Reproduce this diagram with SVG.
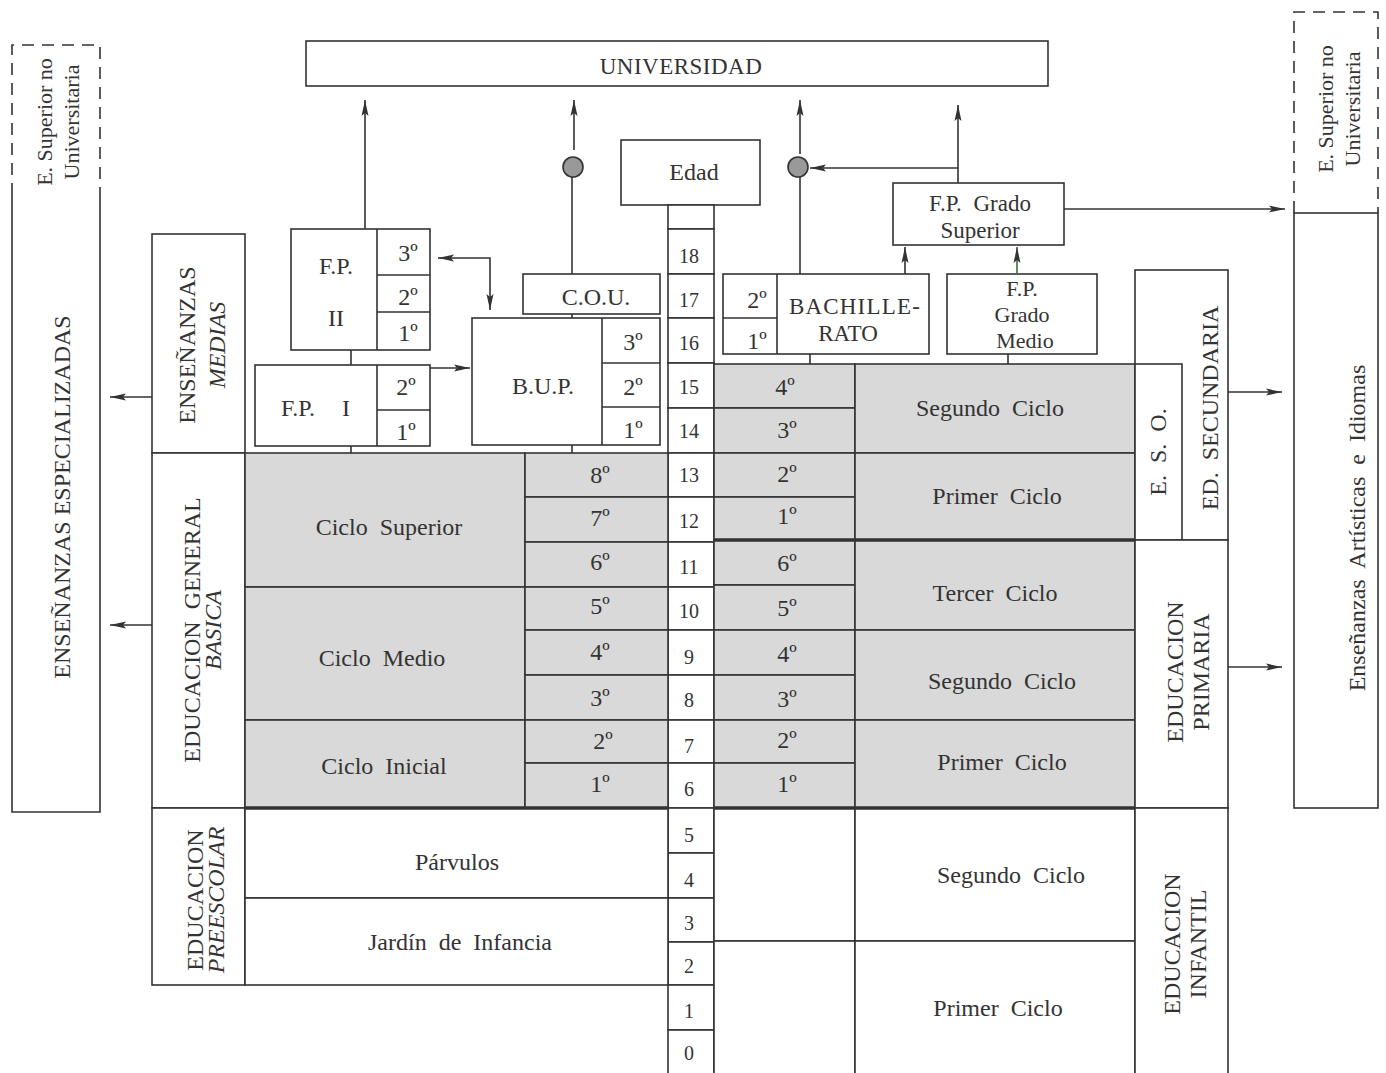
<svg xmlns="http://www.w3.org/2000/svg" width="1386" height="1073" viewBox="0 0 1386 1073">
<style>
.b{fill:#fff;stroke:#333;stroke-width:1.6}
.g{fill:#d9d9d9;stroke:#333;stroke-width:1.6}
.ln{fill:none;stroke:#333;stroke-width:1.6}
.th{fill:none;stroke:#333;stroke-width:3.5}
.ds{fill:none;stroke:#333;stroke-width:1.6;stroke-dasharray:12 8}
.t{font-family:"Liberation Serif","Times New Roman",serif;font-size:24px;fill:#333;text-anchor:middle}
.s{font-size:20px}
.m{font-size:22px}
.w{word-spacing:6px}
.i{font-style:italic}
.gc{fill:#999;stroke:#333;stroke-width:1.6}
</style>
<defs>
<marker id="ar" markerUnits="userSpaceOnUse" markerWidth="18" markerHeight="10" refX="16" refY="4" orient="auto-start-reverse">
<path d="M0,0.5 L16,4 L0,7.5 L3,4 z" fill="#333"/>
</marker>
</defs>
<rect width="1386" height="1073" fill="#fff"/>

<g id="universidad"><rect class="b" x="306" y="41" width="742" height="45"/><text class="t" x="681" y="74" style="font-size:23px;letter-spacing:0.5px">UNIVERSIDAD</text></g>

<g id="edad"><rect class="b" x="621" y="140" width="139" height="65"/><text class="t" x="694" y="180">Edad</text></g>

<g id="edades">
<rect class="b" x="668" y="205" width="46" height="24"/>
<rect class="b" x="668" y="229" width="46" height="45"/><text class="t s" x="689" y="263">18</text>
<rect class="b" x="668" y="274" width="46" height="44"/><text class="t s" x="689" y="307">17</text>
<rect class="b" x="668" y="318" width="46" height="45"/><text class="t s" x="689" y="350">16</text>
<rect class="b" x="668" y="363" width="46" height="45"/><text class="t s" x="689" y="394">15</text>
<rect class="b" x="668" y="408" width="46" height="45"/><text class="t s" x="689" y="438">14</text>
<rect class="b" x="668" y="453" width="46" height="44"/><text class="t s" x="689" y="482">13</text>
<rect class="b" x="668" y="497" width="46" height="45"/><text class="t s" x="689" y="528">12</text>
<rect class="b" x="668" y="542" width="46" height="45"/><text class="t s" x="689" y="574">11</text>
<rect class="b" x="668" y="587" width="46" height="43"/><text class="t s" x="689" y="618">10</text>
<rect class="b" x="668" y="630" width="46" height="45"/><text class="t s" x="689" y="664">9</text>
<rect class="b" x="668" y="675" width="46" height="45"/><text class="t s" x="689" y="707">8</text>
<rect class="b" x="668" y="720" width="46" height="43"/><text class="t s" x="689" y="753">7</text>
<rect class="b" x="668" y="763" width="46" height="45"/><text class="t s" x="689" y="796">6</text>
<rect class="b" x="668" y="808" width="46" height="45"/><text class="t s" x="689" y="842">5</text>
<rect class="b" x="668" y="853" width="46" height="45"/><text class="t s" x="689" y="887">4</text>
<rect class="b" x="668" y="898" width="46" height="44"/><text class="t s" x="689" y="930">3</text>
<rect class="b" x="668" y="942" width="46" height="43"/><text class="t s" x="689" y="973">2</text>
<rect class="b" x="668" y="985" width="46" height="45"/><text class="t s" x="689" y="1018">1</text>
<rect class="b" x="668" y="1030" width="46" height="50"/><text class="t s" x="689" y="1060">0</text>
</g>

<g id="ens-especializadas">
<path class="ds" d="M12,195 V45 H100 V195"/>
<path class="ln" d="M12,195 V812 H100 V195"/>
<text class="t" transform="rotate(-90 62 497)" x="62" y="497" dy="0.35em">ENSEÑANZAS  ESPECIALIZADAS</text>
<text class="t m" transform="rotate(-90 44 122)" x="44" y="122" dy="0.35em">E. Superior no</text>
<text class="t m" transform="rotate(-90 71 122)" x="71" y="122" dy="0.35em">Universitaria</text>
</g>

<g id="ens-medias"><rect class="b" x="152" y="234" width="93" height="219"/>
<text class="t" transform="rotate(-90 187 345)" x="187" y="345" dy="0.35em">ENSEÑANZAS</text>
<text class="t i" transform="rotate(-90 217 345)" x="217" y="345" dy="0.35em">MEDIAS</text></g>

<g id="egb"><rect class="b" x="152" y="453" width="93" height="355"/>
<text class="t w" transform="rotate(-90 192 630)" x="192" y="630" dy="0.35em">EDUCACION GENERAL</text>
<text class="t i" transform="rotate(-90 213 630)" x="213" y="630" dy="0.35em">BASICA</text></g>

<g id="preescolar"><rect class="b" x="152" y="808" width="93" height="177"/>
<text class="t" transform="rotate(-90 195 900)" x="195" y="900" dy="0.35em">EDUCACION</text>
<text class="t i" transform="rotate(-90 216 900)" x="216" y="900" dy="0.35em">PREESCOLAR</text></g>

<g id="egb-ciclos">
<rect class="g" x="245" y="453" width="280" height="134"/><text class="t w" x="389" y="535">Ciclo Superior</text>
<rect class="g" x="245" y="587" width="280" height="133"/><text class="t w" x="382" y="666">Ciclo Medio</text>
<rect class="g" x="245" y="720" width="280" height="88"/><text class="t w" x="384" y="774">Ciclo Inicial</text>
<rect class="g" x="525" y="453" width="143" height="44"/><text class="t" x="600" y="483">8º</text>
<rect class="g" x="525" y="497" width="143" height="45"/><text class="t" x="600" y="526">7º</text>
<rect class="g" x="525" y="542" width="143" height="45"/><text class="t" x="600" y="570">6º</text>
<rect class="g" x="525" y="587" width="143" height="43"/><text class="t" x="600" y="614">5º</text>
<rect class="g" x="525" y="630" width="143" height="45"/><text class="t" x="600" y="660">4º</text>
<rect class="g" x="525" y="675" width="143" height="45"/><text class="t" x="600" y="706">3º</text>
<rect class="g" x="525" y="720" width="143" height="43"/><text class="t" x="603" y="749">2º</text>
<rect class="g" x="525" y="763" width="143" height="45"/><text class="t" x="600" y="792">1º</text>
</g>

<g id="parvulos"><rect class="b" x="245" y="808" width="423" height="90"/><text class="t" x="457" y="870">Párvulos</text></g>
<g id="jardin"><rect class="b" x="245" y="898" width="423" height="87"/><text class="t w" x="460" y="950">Jardín de Infancia</text></g>

<g id="fp2"><rect class="b" x="291" y="229" width="139" height="121"/>
<path class="ln" d="M377,229 V350 M377,275 H430 M377,312 H430"/>
<text class="t" x="336" y="274">F.P.</text><text class="t" x="336" y="326">II</text>
<text class="t" x="408" y="261">3º</text><text class="t" x="408" y="305">2º</text><text class="t" x="408" y="341">1º</text></g>

<g id="fp1"><rect class="b" x="255" y="365" width="175" height="81"/>
<path class="ln" d="M377,365 V446 M377,410 H430"/>
<text class="t" x="298" y="416">F.P.</text><text class="t" x="346" y="416">I</text>
<text class="t" x="406" y="395">2º</text><text class="t" x="406" y="440">1º</text></g>

<g id="bup"><rect class="b" x="472" y="318" width="188" height="127"/>
<path class="ln" d="M602,318 V445 M602,363 H660 M602,407 H660"/>
<text class="t" x="543" y="394">B.U.P.</text>
<text class="t" x="633" y="350">3º</text><text class="t" x="633" y="395">2º</text><text class="t" x="633" y="438">1º</text></g>

<g id="cou"><rect class="b" x="523" y="274" width="137" height="40"/><text class="t" x="596" y="305">C.O.U.</text></g>

<g id="circulo-1"><circle class="gc" cx="573" cy="167" r="10"/></g>
<g id="circulo-2"><circle class="gc" cx="798" cy="167" r="10"/></g>

<g id="bachillerato"><rect class="b" x="723" y="274" width="206" height="80"/>
<path class="ln" d="M777,274 V354 M723,318 H777"/>
<text class="t" x="757" y="308">2º</text><text class="t" x="757" y="349">1º</text>
<text class="t" x="855" y="314" style="font-size:23px;letter-spacing:1.2px">BACHILLE-</text><text class="t" x="848" y="341" style="font-size:23px">RATO</text></g>

<g id="fp-grado-medio"><rect class="b" x="947" y="274" width="150" height="80"/>
<text class="t m" x="1022" y="296">F.P.</text><text class="t m" x="1022" y="322">Grado</text><text class="t m" x="1025" y="348">Medio</text></g>

<g id="fp-grado-superior"><rect class="b" x="893" y="183" width="171" height="62"/>
<text class="t w" x="980" y="211" style="font-size:23px">F.P. Grado</text><text class="t" x="980" y="238" style="font-size:23px">Superior</text></g>

<g id="logse-grados">
<rect class="g" x="714" y="364" width="141" height="44"/><text class="t" x="785" y="395">4º</text>
<rect class="g" x="714" y="408" width="141" height="45"/><text class="t" x="787" y="438">3º</text>
<rect class="g" x="714" y="453" width="141" height="44"/><text class="t" x="787" y="482">2º</text>
<rect class="g" x="714" y="497" width="141" height="43"/><text class="t" x="787" y="524">1º</text>
<rect class="g" x="714" y="540" width="141" height="45"/><text class="t" x="787" y="571">6º</text>
<rect class="g" x="714" y="585" width="141" height="45"/><text class="t" x="787" y="616">5º</text>
<rect class="g" x="714" y="630" width="141" height="45"/><text class="t" x="787" y="662">4º</text>
<rect class="g" x="714" y="675" width="141" height="45"/><text class="t" x="787" y="707">3º</text>
<rect class="g" x="714" y="720" width="141" height="43"/><text class="t" x="787" y="748">2º</text>
<rect class="g" x="714" y="763" width="141" height="45"/><text class="t" x="787" y="792">1º</text>
</g>

<g id="logse-ciclos">
<rect class="g" x="855" y="364" width="280" height="89"/><text class="t w" x="990" y="416">Segundo Ciclo</text>
<rect class="g" x="855" y="453" width="280" height="87"/><text class="t w" x="997" y="504">Primer Ciclo</text>
<rect class="g" x="855" y="540" width="280" height="90"/><text class="t w" x="995" y="601">Tercer Ciclo</text>
<rect class="g" x="855" y="630" width="280" height="90"/><text class="t w" x="1002" y="689">Segundo Ciclo</text>
<rect class="g" x="855" y="720" width="280" height="88"/><text class="t w" x="1002" y="770">Primer Ciclo</text>
</g>

<g id="infantil-ciclos">
<rect class="b" x="714" y="808" width="141" height="133"/>
<rect class="b" x="714" y="941" width="141" height="140"/>
<rect class="b" x="855" y="808" width="280" height="133"/><text class="t w" x="1011" y="883">Segundo Ciclo</text>
<rect class="b" x="855" y="941" width="280" height="140"/><text class="t w" x="998" y="1016">Primer Ciclo</text>
</g>

<g id="thick-lines">
<path class="th" d="M245,808 H668 M714,808 H1135 M714,540 H1135"/>
</g>

<g id="ed-secundaria"><rect class="b" x="1135" y="270" width="93" height="270"/>
<text class="t w" transform="rotate(-90 1210 408)" x="1210" y="408" dy="0.35em">ED. SECUNDARIA</text></g>
<g id="eso"><rect class="b" x="1135" y="364" width="47" height="176"/>
<text class="t w" transform="rotate(-90 1158 452)" x="1158" y="452" dy="0.35em">E. S. O.</text></g>
<g id="ed-primaria"><rect class="b" x="1135" y="540" width="93" height="268"/>
<text class="t" transform="rotate(-90 1175 672)" x="1175" y="672" dy="0.35em">EDUCACION</text>
<text class="t" transform="rotate(-90 1201 672)" x="1201" y="672" dy="0.35em">PRIMARIA</text></g>
<g id="ed-infantil"><rect class="b" x="1135" y="808" width="93" height="273"/>
<text class="t" transform="rotate(-90 1172 944)" x="1172" y="944" dy="0.35em">EDUCACION</text>
<text class="t" transform="rotate(-90 1198 944)" x="1198" y="944" dy="0.35em">INFANTIL</text></g>

<g id="ens-artisticas">
<path class="ds" d="M1294,213 V12 H1378 V213"/>
<rect class="b" x="1294" y="213" width="84" height="595"/>
<text class="t w" transform="rotate(-90 1357 528)" x="1357" y="528" dy="0.35em">Enseñanzas Artísticas e Idiomas</text>
<text class="t m" transform="rotate(-90 1325 109)" x="1325" y="109" dy="0.35em">E. Superior no</text>
<text class="t m" transform="rotate(-90 1352 109)" x="1352" y="109" dy="0.35em">Universitaria</text>
</g>

<g id="connectors">
<path class="ln" d="M365,229 V100" marker-end="url(#ar)"/>
<path class="ln" d="M572,274 V177"/>
<path class="ln" d="M574,150 V100" marker-end="url(#ar)"/>
<path class="ln" d="M572,314 V318 M572,445 V453"/>
<path class="ln" d="M351,350 V365 M351,446 V453"/>
<path class="ln" d="M430,368 H470" marker-end="url(#ar)"/>
<path class="ln" d="M438,258 H490 V310" marker-start="url(#ar)" marker-end="url(#ar)"/>
<path class="ln" d="M800,274 V177"/>
<path class="ln" d="M800,154 V100" marker-end="url(#ar)"/>
<path class="ln" d="M958,183 V105" marker-end="url(#ar)"/>
<path class="ln" d="M958,168 H810" marker-end="url(#ar)"/>
<path class="ln" d="M905,274 V247" marker-end="url(#ar)"/>
<path class="ln" d="M1017,274 V247" marker-end="url(#ar)" style="stroke:#3a6e3a"/>
<path class="ln" d="M1064,209 H1285" marker-end="url(#ar)"/>
<path class="ln" d="M810,354 V364 M1008,354 V364"/>
<path class="ln" d="M152,397 H110" marker-end="url(#ar)"/>
<path class="ln" d="M152,625 H110" marker-end="url(#ar)"/>
<path class="ln" d="M1228,392 H1282" marker-end="url(#ar)"/>
<path class="ln" d="M1228,667 H1282" marker-end="url(#ar)"/>
</g>
</svg>
